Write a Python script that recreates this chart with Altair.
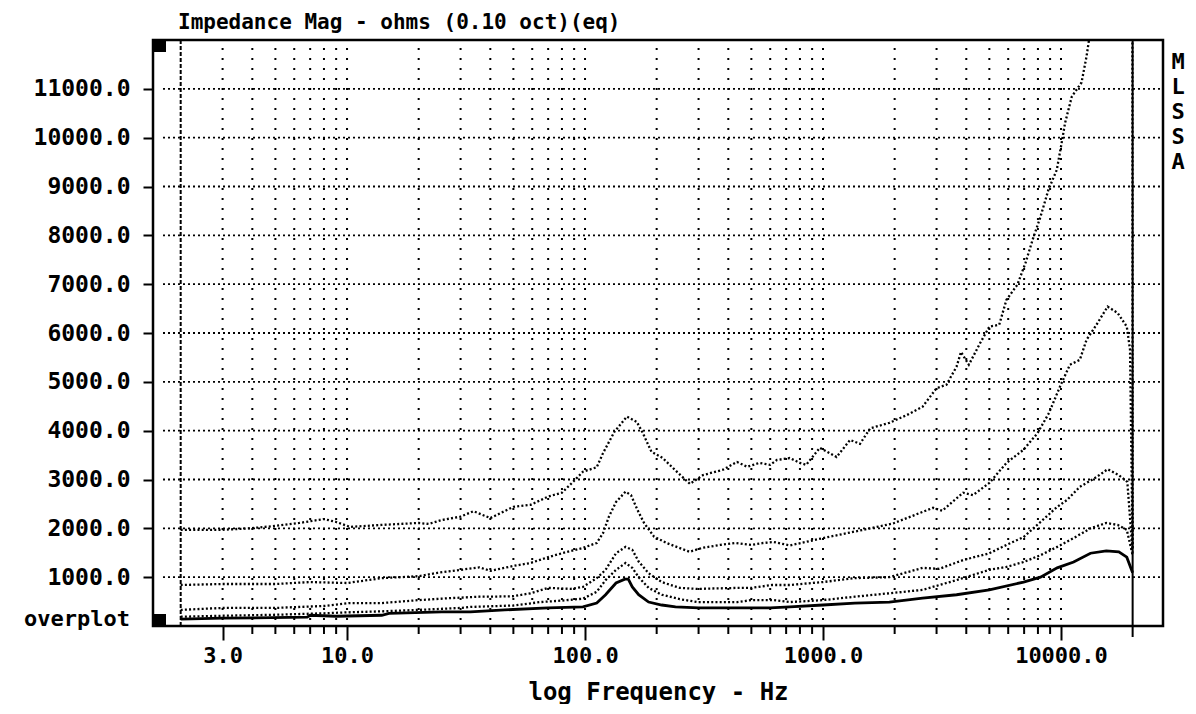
import altair as alt
import pandas as pd

# ---------------- data ----------------
freq_a = [2, 3, 3.9, 5, 6.3, 8, 9, 10.3, 14, 20, 22, 25, 30, 34, 40, 50, 59, 70, 80, 89, 98,
          112, 119, 133, 150, 165, 175, 190, 212, 243, 276, 313, 380, 435, 480, 540, 600,
          640, 725, 800, 850, 970, 1140, 1300, 1430, 1580, 1900, 2250, 2620, 3000, 3300,
          3640, 3800, 4100, 4580, 5000, 5500, 5900, 6560, 7100, 7600, 8200, 8850, 9600,
          10070, 10400, 11100, 12200, 12800, 13300, 14500, 17000, 19900, 20000]
imp_a = [1970, 1970, 2000, 2050, 2110, 2190, 2130, 2030, 2070, 2110, 2090, 2170, 2240, 2350,
         2210, 2440, 2480, 2650, 2730, 2950, 3160, 3250, 3540, 3980, 4290, 4180, 3950, 3570,
         3440, 3160, 2910, 3090, 3200, 3360, 3260, 3340, 3300, 3400, 3440, 3340, 3300, 3650,
         3460, 3810, 3730, 4050, 4160, 4320, 4490, 4870, 4940, 5310, 5610, 5350, 5800, 6130,
         6170, 6680, 6990, 7440, 7910, 8380, 8930, 9340, 9900, 10300, 10840, 11130, 11660,
         12200, 14000, 18000, 25000, 1600]

freq_b = [2, 3, 5, 7, 10, 14, 20, 24, 30, 36, 40, 50, 59, 70, 80, 98, 112, 119, 126, 135, 148,
          156, 166, 177, 195, 220, 275, 311, 370, 430, 500, 560, 620, 726, 1000, 1580, 1970,
          2900, 3170, 3880, 4270, 5000, 5900, 6960, 7970, 8900, 9900, 10900, 12000, 12800,
          14100, 15700, 17300, 18900, 19500, 20000]
imp_b = [840, 860, 860, 900, 880, 980, 1020, 1090, 1150, 1200, 1130, 1230, 1290, 1410, 1490,
         1600, 1700, 1900, 2240, 2540, 2750, 2680, 2380, 2110, 1830, 1700, 1520, 1600, 1660,
         1700, 1660, 1700, 1720, 1650, 1800, 2000, 2100, 2420, 2360, 2730, 2680, 2930, 3340,
         3610, 3950, 4360, 4900, 5350, 5450, 5860, 6170, 6540, 6410, 6130, 5660, 1550]

freq_c = [2, 3, 5, 8, 10.3, 14, 20, 27, 36, 40, 50, 59, 70, 87, 98, 112, 122, 135, 148, 158,
          168, 185, 210, 250, 297, 437, 500, 610, 726, 1000, 1360, 1900, 2620, 3080, 3880,
          5000, 5900, 6960, 8200, 9640, 10600, 12000, 14100, 15700, 17500, 19000, 20000]
imp_c = [330, 370, 370, 410, 470, 470, 530, 570, 600, 600, 610, 670, 780, 760, 800, 980, 1150,
         1490, 1620, 1560, 1320, 1080, 900, 780, 760, 780, 780, 840, 840, 900, 980, 1000, 1190,
         1170, 1350, 1490, 1660, 1820, 2130, 2440, 2580, 2850, 3050, 3210, 3090, 2950, 1500]

freq_d = [2, 3, 5, 8, 10, 14, 20, 30, 33, 50, 65, 80, 98, 112, 122, 135, 148, 158, 168, 185,
          210, 250, 297, 437, 500, 620, 726, 1000, 1360, 1900, 2620, 3640, 5000, 5900, 6960,
          8200, 9640, 11300, 13300, 15500, 17300, 18900, 20000]
imp_d = [190, 210, 230, 260, 280, 300, 330, 370, 390, 420, 490, 520, 560, 700, 940, 1150, 1290,
         1190, 1000, 780, 640, 550, 490, 490, 530, 530, 490, 530, 600, 670, 740, 940, 1150,
         1210, 1310, 1450, 1620, 1800, 2000, 2110, 2070, 1970, 1450]

freq_e = [2, 3, 6.8, 7, 9, 14, 15, 25, 33, 46, 70, 98, 112, 122, 135, 147, 152, 158, 168, 185,
          210, 240, 300, 600, 726, 1000, 1360, 1900, 2620, 3640, 5000, 6960, 8200, 9640,
          11300, 13300, 15500, 17500, 18900, 20000]
imp_e = [140, 160, 180, 220, 200, 220, 260, 290, 290, 330, 370, 390, 470, 640, 880, 960, 960,
         800, 640, 490, 430, 390, 370, 370, 390, 430, 470, 490, 570, 640, 740, 900, 1000, 1190,
         1310, 1490, 1540, 1520, 1410, 1090]

y_values = [1000, 2000, 3000, 4000, 5000, 6000, 7000, 8000, 9000, 10000, 11000]
x_label_freqs = [3, 10, 100, 1000, 10000]
grid_freqs = [3, 4, 5, 6, 7, 8, 9, 10, 20, 30, 40, 50, 60, 70, 80, 90, 100,
              200, 300, 400, 500, 600, 700, 800, 900, 1000,
              2000, 3000, 4000, 5000, 6000, 7000, 8000, 9000, 10000]
minor_tick_freqs = [f for f in grid_freqs if f not in x_label_freqs]
start_freq = [2]
end_freq = [20000]

title_text = "Impedance Mag - ohms (0.10 oct)(eq)"
x_title = "log Frequency - Hz"
side_text = "M\nL\nS\nS\nA"
zero_label = "overplot"

# ---------------- chart ----------------
FONT = "DejaVu Sans Mono"
W, H = 1010, 586

xs = alt.Scale(type="log", domain=[1.53, 26830], nice=False)
ys = alt.Scale(domain=[0, 12000], nice=False, zero=True)

xaxis = alt.Axis(values=x_label_freqs, labelExpr="format(datum.value, '.1f')",
                 tickSize=14, tickWidth=2, tickColor="black", domain=False, grid=False,
                 labelFont=FONT, labelFontSize=22, labelFontWeight="bold", labelColor="black",
                 labelPadding=5, labelFlush=False, labelOverlap=False,
                 title=x_title, titleFont=FONT, titleFontSize=24, titleFontWeight="bold",
                 titleColor="black", titlePadding=14)
yaxis = alt.Axis(values=y_values, format=".1f", tickSize=10, tickWidth=2, tickColor="black",
                 domain=False, grid=False, labelFont=FONT, labelFontSize=23,
                 labelFontWeight="bold", labelColor="black", labelPadding=13, title=None)

X = alt.X("f:Q", scale=xs, axis=xaxis)
Y = alt.Y("z:Q", scale=ys, axis=yaxis)

hgrid = alt.Chart(pd.DataFrame({"z": y_values})).mark_rule(
    strokeDash=[2, 3], strokeWidth=1.8, color="black").encode(
    y=Y, x=alt.value(10), x2=alt.value(1007))

vgrid = alt.Chart(pd.DataFrame({"f": grid_freqs})).mark_rule(
    strokeDash=[2, 8], strokeWidth=2, color="black").encode(
    x=X, y=alt.value(8), y2=alt.value(580))

start_line = alt.Chart(pd.DataFrame({"f": start_freq})).mark_rule(
    strokeDash=[4, 2], strokeWidth=2, color="black").encode(
    x=X, y=alt.value(0), y2=alt.value(H))

end_line = alt.Chart(pd.DataFrame({"f": end_freq})).mark_rule(
    strokeWidth=2, color="black").encode(x=X, y=alt.value(0), y2=alt.value(H + 11))

minor_ticks = alt.Chart(pd.DataFrame({"f": minor_tick_freqs})).mark_rule(
    strokeWidth=2, color="black").encode(x=X, y=alt.value(H), y2=alt.value(H + 8))

dotted_rows = []
for name, fr, im in [("a", freq_a, imp_a), ("b", freq_b, imp_b),
                     ("c", freq_c, imp_c), ("d", freq_d, imp_d)]:
    for f, z in zip(fr, im):
        dotted_rows.append({"f": f, "z": z, "s": name})
dotted_df = pd.DataFrame(dotted_rows)
solid_df = pd.DataFrame({"f": freq_e, "z": imp_e})

dotted = alt.Chart(dotted_df).mark_line(
    clip=True, strokeDash=[2, 2.2], strokeWidth=2.3, color="black").encode(
    x=X, y=Y, detail="s:N")
solid = alt.Chart(solid_df).mark_line(
    clip=True, strokeWidth=2.8, color="black").encode(x=X, y=Y)

one = pd.DataFrame({"k": [0]})
frame = alt.Chart(one).mark_rect(filled=False, stroke="black", strokeWidth=2.5).encode(
    x=alt.value(0), x2=alt.value(W), y=alt.value(0), y2=alt.value(H))
sq_top = alt.Chart(one).mark_rect(color="black").encode(
    x=alt.value(0), x2=alt.value(13), y=alt.value(0), y2=alt.value(12))
sq_bot = alt.Chart(one).mark_rect(color="black").encode(
    x=alt.value(0), x2=alt.value(13), y=alt.value(H - 12), y2=alt.value(H))

over = alt.Chart(pd.DataFrame({"z": [150], "t": [zero_label]})).mark_text(
    align="right", baseline="middle", font=FONT, fontSize=22, fontWeight="bold",
    color="black").encode(x=alt.value(-23), y=Y, text="t:N")

side = alt.Chart(pd.DataFrame({"t": [side_text]})).mark_text(
    lineBreak="\n", lineHeight=25, align="center", baseline="top", font=FONT,
    fontSize=22, fontWeight="bold", color="black").encode(
    x=alt.value(1025), y=alt.value(12), text="t:N")

title = alt.Chart(pd.DataFrame({"t": [title_text]})).mark_text(
    align="left", baseline="alphabetic", font=FONT, fontSize=21, fontWeight="bold",
    color="black").encode(x=alt.value(25), y=alt.value(-11), text="t:N")

chart = alt.layer(hgrid, vgrid, start_line, end_line, minor_ticks, dotted, solid,
                  frame, sq_top, sq_bot, over, side, title).properties(
    width=W, height=H,
    padding={"left": 145, "top": 32, "right": 25, "bottom": 78},
    autosize=alt.AutoSizeParams(type="none"),
).configure_view(stroke="black", strokeWidth=2, fill="white").configure(background="white")

chart.save("out.html", embed_options={"renderer": "svg", "actions": False})
